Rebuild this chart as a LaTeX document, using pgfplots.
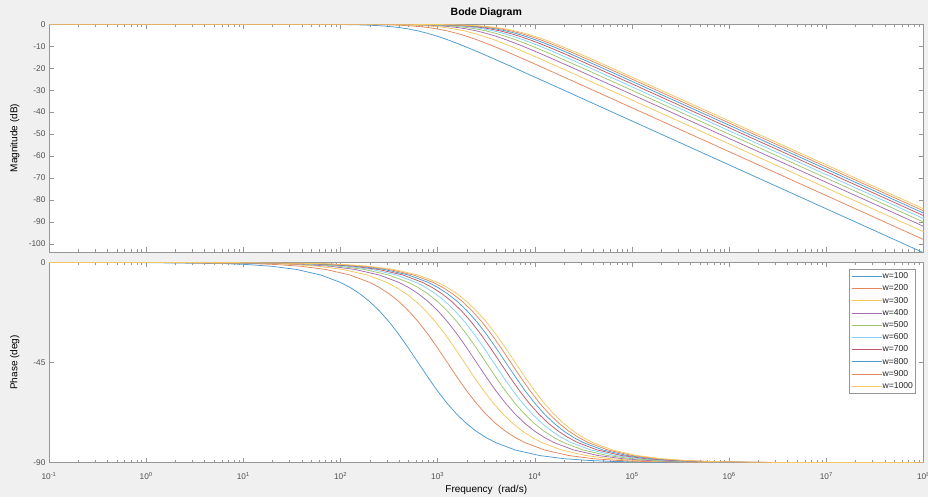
\documentclass[border=0pt]{standalone}
\usepackage{pgfplots}
\pgfplotsset{compat=1.18}
\usepackage{pgfplotstable}
\usepackage{fontspec}
\setmainfont{Liberation Sans}

\definecolor{figbg}{RGB}{240,240,240}
\definecolor{axgray}{RGB}{150,150,150}
\definecolor{lblgray}{RGB}{80,80,80}
\definecolor{c1}{RGB}{0,114,189}
\definecolor{c2}{RGB}{217,83,25}
\definecolor{c3}{RGB}{237,177,32}
\definecolor{c4}{RGB}{126,47,142}
\definecolor{c5}{RGB}{119,172,48}
\definecolor{c6}{RGB}{77,190,238}
\definecolor{c7}{RGB}{162,20,47}

% u = log10(omega/omega_c); M in dB, P in deg; a..j = log10(omega) for w=100..1000
\pgfplotstableread{
u M P a b c d e f g h i j
-10 0 0 -7.202 -6.901 -6.725 -6.6 -6.503 -6.424 -6.357 -6.299 -6.248 -6.202
-3 0 -0.06 -0.202 0.099 0.275 0.4 0.497 0.576 0.643 0.701 0.752 0.798
-2 0 -0.57 0.798 1.099 1.275 1.4 1.497 1.576 1.643 1.701 1.752 1.798
-1.75 -0.001 -1.02 1.048 1.349 1.525 1.65 1.747 1.826 1.893 1.951 2.002 2.048
-1.5 -0.004 -1.81 1.298 1.599 1.775 1.9 1.997 2.076 2.143 2.201 2.252 2.298
-1.25 -0.014 -3.22 1.548 1.849 2.025 2.15 2.247 2.326 2.393 2.451 2.502 2.548
-1 -0.043 -5.71 1.798 2.099 2.275 2.4 2.497 2.576 2.643 2.701 2.752 2.798
-0.8 -0.108 -9.00 1.998 2.299 2.475 2.6 2.697 2.776 2.843 2.901 2.952 2.998
-0.7 -0.170 -11.28 2.098 2.399 2.575 2.7 2.797 2.876 2.943 3.001 3.052 3.098
-0.6 -0.266 -14.10 2.198 2.499 2.675 2.8 2.897 2.976 3.043 3.101 3.152 3.198
-0.5 -0.414 -17.55 2.298 2.599 2.775 2.9 2.997 3.076 3.143 3.201 3.252 3.298
-0.4 -0.639 -21.71 2.398 2.699 2.875 3.0 3.097 3.176 3.243 3.301 3.352 3.398
-0.3 -0.973 -26.62 2.498 2.799 2.975 3.1 3.197 3.276 3.343 3.401 3.452 3.498
-0.2 -1.455 -32.25 2.598 2.899 3.075 3.2 3.297 3.376 3.443 3.501 3.552 3.598
-0.1 -2.124 -38.46 2.698 2.999 3.175 3.3 3.397 3.476 3.543 3.601 3.652 3.698
0 -3.010 -45.00 2.798 3.099 3.275 3.4 3.497 3.576 3.643 3.701 3.752 3.798
0.1 -4.124 -51.54 2.898 3.199 3.375 3.5 3.597 3.676 3.743 3.801 3.852 3.898
0.2 -5.455 -57.75 2.998 3.299 3.475 3.6 3.697 3.776 3.843 3.901 3.952 3.998
0.3 -6.973 -63.38 3.098 3.399 3.575 3.7 3.797 3.876 3.943 4.001 4.052 4.098
0.4 -8.639 -68.29 3.198 3.499 3.675 3.8 3.897 3.976 4.043 4.101 4.152 4.198
0.5 -10.414 -72.45 3.298 3.599 3.775 3.9 3.997 4.076 4.143 4.201 4.252 4.298
0.6 -12.266 -75.90 3.398 3.699 3.875 4.0 4.097 4.176 4.243 4.301 4.352 4.398
0.7 -14.170 -78.72 3.498 3.799 3.975 4.1 4.197 4.276 4.343 4.401 4.452 4.498
0.8 -16.108 -81.00 3.598 3.899 4.075 4.2 4.297 4.376 4.443 4.501 4.552 4.598
1 -20.043 -84.29 3.798 4.099 4.275 4.4 4.497 4.576 4.643 4.701 4.752 4.798
1.25 -25.014 -86.78 4.048 4.349 4.525 4.65 4.747 4.826 4.893 4.951 5.002 5.048
1.5 -30.004 -88.19 4.298 4.599 4.775 4.9 4.997 5.076 5.143 5.201 5.252 5.298
1.75 -35.001 -88.98 4.548 4.849 5.025 5.15 5.247 5.326 5.393 5.451 5.502 5.548
2 -40.000 -89.43 4.798 5.099 5.275 5.4 5.497 5.576 5.643 5.701 5.752 5.798
2.5 -50.000 -89.82 5.298 5.599 5.775 5.9 5.997 6.076 6.143 6.201 6.252 6.298
3 -60.000 -89.94 5.798 6.099 6.275 6.4 6.497 6.576 6.643 6.701 6.752 6.798
5.5 -110.000 -90.00 8.298 8.599 8.775 8.9 8.997 9.076 9.143 9.201 9.252 9.298
}\bode

\pgfplotsset{
  bodeax/.style={
    scale only axis, width=874.5pt,
    xmin=-1, xmax=8,
    axis background/.style={fill=white},
    axis line style={axgray, line width=0.5pt},
    tick style={axgray, line width=0.5pt},
    major tick length=5pt, minor tick length=3pt,
    tick pos=both, tick align=inside,
    tick label style={font=\fontsize{8.3}{9}\selectfont, text=lblgray},
    xticklabel style={yshift=-6pt},
    /pgf/number format/assume math mode=true,
    xtick={-1,0,1,2,3,4,5,6,7,8},
    minor xtick={-0.69897,-0.52288,-0.39794,-0.30103,-0.22185,-0.15490,-0.09691,-0.04576,
      0.30103,0.47712,0.60206,0.69897,0.77815,0.84510,0.90309,0.95424,
      1.30103,1.47712,1.60206,1.69897,1.77815,1.84510,1.90309,1.95424,
      2.30103,2.47712,2.60206,2.69897,2.77815,2.84510,2.90309,2.95424,
      3.30103,3.47712,3.60206,3.69897,3.77815,3.84510,3.90309,3.95424,
      4.30103,4.47712,4.60206,4.69897,4.77815,4.84510,4.90309,4.95424,
      5.30103,5.47712,5.60206,5.69897,5.77815,5.84510,5.90309,5.95424,
      6.30103,6.47712,6.60206,6.69897,6.77815,6.84510,6.90309,6.95424,
      7.30103,7.47712,7.60206,7.69897,7.77815,7.84510,7.90309,7.95424},
    label style={font=\fontsize{10}{12}\selectfont, text=black!80},
    every axis y label/.style={at={(axis description cs:-0.039,0.5)}, rotate=90, anchor=center},
    every axis plot/.append style={line width=0.75pt},
  },
  l1/.style={c1!70!white}, l2/.style={c2!70!white}, l3/.style={c3!70!white},
  l4/.style={c4!70!white}, l5/.style={c5!70!white}, l6/.style={c6!70!white},
  l7/.style={c7!70!white},
}

\begin{document}
\begin{tikzpicture}
\clip (0pt,0pt) rectangle (928pt,497pt);
\fill[figbg] (0pt,0pt) rectangle (928pt,497pt);

\begin{axis}[bodeax, name=mag,
  at={(49pt,245pt)}, anchor=south west, height=227.7pt,
  ymin=-103.7, ymax=0,
  ytick={-100,-90,-80,-70,-60,-50,-40,-30,-20,-10,0},
  xticklabels={},
  ylabel={Magnitude (dB)},
  title={Bode Diagram},
  every axis title/.style={at={(axis description cs:0.5,1.0496)}, anchor=center,
    font=\fontsize{10.5}{12}\selectfont\bfseries},
]
\addplot[l1] table[x=a, y=M] {\bode};
\addplot[l2] table[x=b, y=M] {\bode};
\addplot[l3] table[x=c, y=M] {\bode};
\addplot[l4] table[x=d, y=M] {\bode};
\addplot[l5] table[x=e, y=M] {\bode};
\addplot[l6] table[x=f, y=M] {\bode};
\addplot[l7] table[x=g, y=M] {\bode};
\addplot[l1] table[x=h, y=M] {\bode};
\addplot[l2] table[x=i, y=M] {\bode};
\addplot[l3] table[x=j, y=M] {\bode};
\end{axis}

\begin{axis}[bodeax, name=ph,
  at={(49pt,34.3pt)}, anchor=south west, height=200.4pt,
  ymin=-90, ymax=0,
  ytick={-90,-45,0},
  xticklabels={10\textsuperscript{-1},10\textsuperscript{0},10\textsuperscript{1},10\textsuperscript{2},10\textsuperscript{3},10\textsuperscript{4},10\textsuperscript{5},10\textsuperscript{6},10\textsuperscript{7},10\textsuperscript{8}},
  ylabel={Phase (deg)},
  xlabel={Frequency\ \ (rad/s)},
  every axis x label/.style={at={(axis description cs:0.5,-0.136)}, anchor=center},
  legend style={at={(0.991,0.967)}, anchor=north east, draw=axgray, fill=white,
    font=\fontsize{8.6}{9}\selectfont, text=black!85, row sep=3.7pt,
    inner xsep=2pt, inner ysep=3pt,
    nodes={inner sep=0.5pt, text height=6pt, text depth=1.5pt}},
  legend cell align=left,
  legend image code/.code={\draw[#1] (0pt,0pt) -- (30pt,0pt);},
]
\addplot[l1] table[x=a, y=P] {\bode};
\addplot[l2] table[x=b, y=P] {\bode};
\addplot[l3] table[x=c, y=P] {\bode};
\addplot[l4] table[x=d, y=P] {\bode};
\addplot[l5] table[x=e, y=P] {\bode};
\addplot[l6] table[x=f, y=P] {\bode};
\addplot[l7] table[x=g, y=P] {\bode};
\addplot[l1] table[x=h, y=P] {\bode};
\addplot[l2] table[x=i, y=P] {\bode};
\addplot[l3] table[x=j, y=P] {\bode};
\legend{w=100,w=200,w=300,w=400,w=500,w=600,w=700,w=800,w=900,w=1000}
\end{axis}
\end{tikzpicture}
\end{document}
